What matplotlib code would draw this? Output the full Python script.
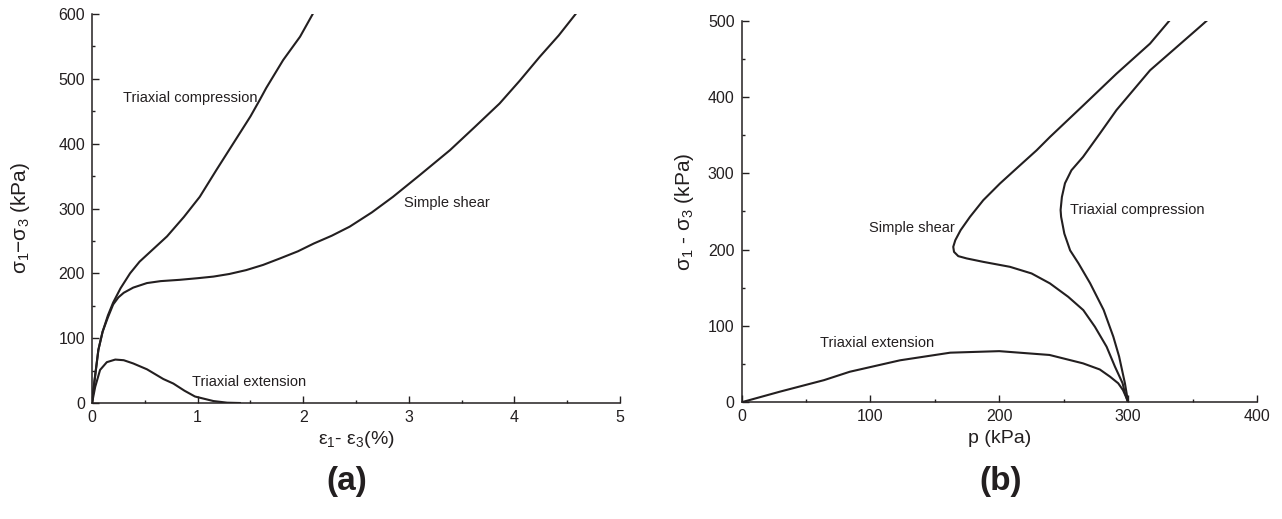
import matplotlib
matplotlib.use("Agg")
import matplotlib.pyplot as plt
from matplotlib.ticker import MultipleLocator

plt.rcParams['font.family'] = ['Liberation Sans', 'DejaVu Sans']
plt.rcParams['mathtext.fontset'] = 'custom'
plt.rcParams['mathtext.rm'] = 'Liberation Sans'
plt.rcParams['mathtext.it'] = 'Liberation Sans'

INK = '#231f20'

# ---- panel (a): deviator stress vs strain (%) ----
comp_strain = [0, 0.02, 0.06, 0.10, 0.15, 0.20, 0.27, 0.36, 0.45, 0.55, 0.71, 0.87, 1.02,
               1.18, 1.34, 1.50, 1.59, 1.65, 1.81, 1.97, 2.09]
comp_q_a = [0, 30, 82, 110, 135, 155, 177, 200, 218, 233, 257, 287, 318,
            360, 401, 442, 468, 486, 529, 565, 600]

shear_strain = [0, 0.02, 0.06, 0.10, 0.15, 0.20, 0.25, 0.30, 0.39, 0.52, 0.65, 0.83, 1.0,
                1.15, 1.30, 1.46, 1.62, 1.78, 1.95, 2.10, 2.27, 2.44, 2.65, 2.85, 3.10,
                3.39, 3.62, 3.86, 4.05, 4.24, 4.42, 4.58]
shear_q_a = [0, 30, 82, 110, 132, 152, 163, 170, 178, 185, 188, 190, 192.5,
             195, 199, 205, 213, 223, 234, 246, 258, 272, 294, 318, 351,
             390, 425, 462, 497, 534, 567, 600]

ext_strain = [0, 0.03, 0.076, 0.14, 0.22, 0.30, 0.39, 0.52, 0.675, 0.77, 0.875, 0.975, 1.15, 1.28, 1.4]
ext_q_a = [0, 25, 51, 63, 67, 66, 61, 52, 37, 30, 19, 10, 3, 0.5, 0]

# ---- panel (b): stress paths in p - q ----
comp_p = [300, 299, 297.5, 293, 288.5, 281, 270.5, 261.5, 255, 250.5, 248, 247.6, 248.6,
          251, 256, 265, 278, 291, 304, 317, 336, 356, 361]
comp_q_b = [0, 10, 25, 60, 86, 121, 156, 182, 199, 221, 243, 252, 269,
            287, 304, 321.5, 352, 383, 409, 435, 463, 492.5, 500]

shear_p = [300, 297.5, 295.7, 289.8, 283.3, 274.2, 265.2, 253.5, 239.3, 225.1, 208.3, 187.6,
           174.7, 168.2, 164.9, 164.3, 165.9, 170, 177.3, 187.6, 200.5, 214.7, 229, 239.3,
           265.2, 291, 317, 332]
shear_q_b = [0, 12, 25, 46.6, 72.8, 99, 120.8, 138.2, 155.8, 168.8, 177.5, 184,
             188.5, 191.5, 197.1, 203.7, 212.4, 225.5, 243, 264.8, 286.6, 308.4, 330.2, 347.6,
             389, 430.6, 470, 500]

ext_p = [0, 30, 64, 84, 123, 162, 200, 239, 265, 278, 286, 292.3, 296, 298.3, 300]
ext_q_b = [0, 14, 29, 40, 55, 65, 67, 62, 51, 43, 33.5, 24.9, 16, 7.3, 0]

fig = plt.figure(figsize=(12.82, 5.19), dpi=100)
ax1 = fig.add_axes([0.0718, 0.2235, 0.4118, 0.7495])
ax2 = fig.add_axes([0.5784, 0.2249, 0.4021, 0.7352])

lw = 1.5
for x, y in ((comp_strain, comp_q_a), (shear_strain, shear_q_a), (ext_strain, ext_q_a)):
    ax1.plot(x, y, color=INK, lw=lw, solid_joinstyle='round')
ax1.set_xlim(0, 5)
ax1.set_ylim(0, 600)
ax1.xaxis.set_major_locator(MultipleLocator(1))
ax1.xaxis.set_minor_locator(MultipleLocator(0.5))
ax1.yaxis.set_major_locator(MultipleLocator(100))
ax1.yaxis.set_minor_locator(MultipleLocator(50))

for x, y in ((comp_p, comp_q_b), (shear_p, shear_q_b), (ext_p, ext_q_b)):
    ax2.plot(x, y, color=INK, lw=lw, solid_joinstyle='round')
ax2.set_xlim(0, 400)
ax2.set_ylim(0, 500)
ax2.xaxis.set_major_locator(MultipleLocator(100))
ax2.xaxis.set_minor_locator(MultipleLocator(50))
ax2.yaxis.set_major_locator(MultipleLocator(100))
ax2.yaxis.set_minor_locator(MultipleLocator(50))

for ax in (ax1, ax2):
    for s in ('top', 'right'):
        ax.spines[s].set_visible(False)
    for s in ('left', 'bottom'):
        ax.spines[s].set_linewidth(1.1)
        ax.spines[s].set_color(INK)
    ax.tick_params(which='major', direction='in', length=5, width=1, colors=INK,
                   labelsize=11.5, pad=5)
    ax.tick_params(which='minor', direction='in', length=2.5, width=1, colors=INK)

tfs = 10.5
ax1.text(0.29, 470, 'Triaxial compression', fontsize=tfs, color=INK, va='center')
ax1.text(2.95, 308, 'Simple shear', fontsize=tfs, color=INK, va='center')
ax1.text(0.944, 33, 'Triaxial extension', fontsize=tfs, color=INK, va='center')

ax2.text(99, 228, 'Simple shear', fontsize=tfs, color=INK, va='center')
ax2.text(255, 252, 'Triaxial compression', fontsize=tfs, color=INK, va='center')
ax2.text(61, 78, 'Triaxial extension', fontsize=tfs, color=INK, va='center')

ax1.set_ylabel(r'$\mathregular{\sigma_1{-}\sigma_3}$ (kPa)', fontsize=15, color=INK)
ax1.set_xlabel(r'$\mathregular{\varepsilon_1}$- $\mathregular{\varepsilon_3}$(%)', fontsize=14, color=INK)
ax2.set_ylabel(r'$\mathregular{\sigma_1}$ - $\mathregular{\sigma_3}$ (kPa)', fontsize=15, color=INK)
ax2.set_xlabel('p (kPa)', fontsize=14, color=INK)

ax1.yaxis.set_label_coords(-0.114, 0.475)
ax2.yaxis.set_label_coords(-0.088, 0.5)
ax1.xaxis.set_label_coords(0.5, -0.068)
ax2.xaxis.set_label_coords(0.5, -0.072)

fig.text(0.2705, 0.073, '(a)', fontsize=24, fontweight='bold', ha='center', va='center', color=INK)
fig.text(0.7804, 0.073, '(b)', fontsize=24, fontweight='bold', ha='center', va='center', color=INK)

fig.savefig('out.png', dpi=100)
